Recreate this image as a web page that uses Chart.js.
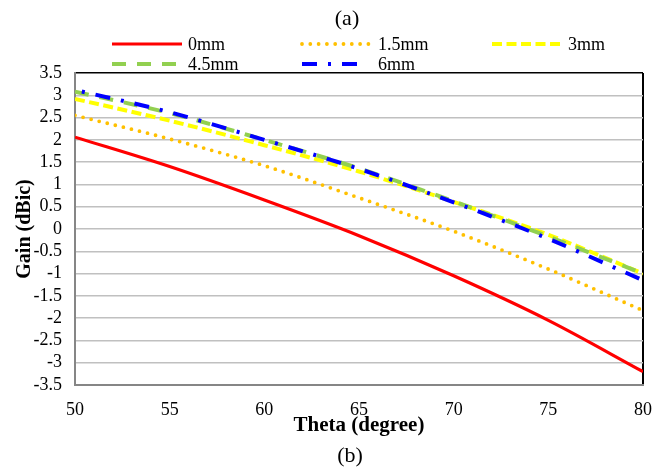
<!DOCTYPE html>
<html>
<head>
<meta charset="utf-8">
<title>Gain vs Theta</title>
<script src="https://cdn.jsdelivr.net/npm/chart.js@4"></script>
<style>
    html, body { margin: 0; padding: 0; background: #fff; }
    #wrap { width: 668px; height: 470px; }
</style>
</head>
<body>
<div id="wrap"><canvas id="gainChart" width="668" height="470"></canvas></div>
<script>
// Datos
const theta = [50, 55, 60, 65, 70, 75, 80];
const gain0mm = [2.06, 1.40, 0.65, -0.15, -1.05, -2.05, -3.20];
const gain15mm = [2.55, 2.02, 1.42, 0.70, -0.05, -0.90, -1.83];
const gain3mm = [2.92, 2.43, 1.88, 1.29, 0.61, -0.13, -1.00];
const gain45mm = [3.08, 2.60, 2.00, 1.36, 0.62, -0.17, -1.00];
const gain6mm = [3.12, 2.62, 2.00, 1.35, 0.60, -0.22, -1.15];
const seriesLabels = ['0mm', '1.5mm', '3mm', '4.5mm', '6mm'];
const yTicks = [-3.5, 3.5, 0.5];   // min, max, paso
const xTicks = [50, 80, 5];

const serif = "'Liberation Serif', 'Times New Roman', serif";

function toPoints(values) {
    return theta.map((t, i) => ({ x: t, y: values[i] }));
}

// Leyenda en dos filas y columnas fijas, como en la figura
const legendPos = [
    { x: 112, y: 44, len: 70 },
    { x: 302, y: 44, len: 67 },
    { x: 492, y: 44, len: 72 },
    { x: 112, y: 64, len: 70 },
    { x: 302, y: 64, len: 57 }
];
const textX = [188, 378, 568, 188, 378];

const labelsPlugin = {
    id: 'labelsPlugin',
    afterDraw(chart) {
        const ctx = chart.ctx;
        ctx.save();
        ctx.fillStyle = '#000';
        ctx.textBaseline = 'middle';
        ctx.textAlign = 'center';
        ctx.font = '22px ' + serif;
        ctx.fillText('(a)', 347, 19);
        ctx.fillText('(b)', 350, 456);

        ctx.font = '18px ' + serif;
        ctx.textAlign = 'left';
        chart.data.datasets.forEach((ds, i) => {
            const p = legendPos[i];
            ctx.beginPath();
            ctx.setLineDash(ds.borderDash || []);
            ctx.lineDashOffset = 0;
            ctx.lineCap = ds.borderCapStyle || 'butt';
            ctx.lineWidth = ds.borderWidth;
            ctx.strokeStyle = ds.borderColor;
            ctx.moveTo(p.x, p.y);
            ctx.lineTo(p.x + p.len, p.y);
            ctx.stroke();
            ctx.setLineDash([]);
            ctx.fillText(ds.label, textX[i], p.y + 1);
        });
        ctx.restore();
    }
};

const ctx = document.getElementById('gainChart').getContext('2d');
new Chart(ctx, {
    type: 'line',
    data: {
        datasets: [
            {
                label: seriesLabels[0], data: toPoints(gain0mm),
                borderColor: '#FF0000', borderWidth: 3.2, order: 4
            },
            {
                label: seriesLabels[1], data: toPoints(gain15mm),
                borderColor: '#FFC000', borderWidth: 3.8, order: 3,
                borderDash: [0, 8.3], borderCapStyle: 'round'
            },
            {
                label: seriesLabels[2], data: toPoints(gain3mm),
                borderColor: '#FFFF00', borderWidth: 4, order: 2,
                borderDash: [10, 4.5]
            },
            {
                label: seriesLabels[3], data: toPoints(gain45mm),
                borderColor: '#92D050', borderWidth: 4, order: 1,
                borderDash: [14, 11]
            },
            {
                label: seriesLabels[4], data: toPoints(gain6mm),
                borderColor: '#0000FF', borderWidth: 4, order: 0,
                borderDash: [15, 11, 3, 11], borderDashOffset: 19
            }
        ]
    },
    options: {
        responsive: false,
        animation: false,
        layout: { padding: { top: 73, right: 25, left: 0, bottom: 0 } },
        elements: {
            point: { radius: 0 },
            line: { fill: false, cubicInterpolationMode: 'monotone' }
        },
        plugins: {
            legend: { display: false },
            tooltip: { enabled: false }
        },
        scales: {
            x: {
                type: 'linear',
                min: xTicks[0], max: xTicks[1],
                afterFit(scale) { scale.height = 85; },
                ticks: {
                    stepSize: xTicks[2],
                    autoSkip: false,
                    maxRotation: 0,
                    padding: 14,
                    color: '#000',
                    font: { family: serif, size: 18 },
                    callback: v => String(v)
                },
                grid: {
                    drawTicks: false,
                    color: c => (c.tick && c.tick.value === xTicks[1]) ? '#000' : 'rgba(0,0,0,0)',
                    lineWidth: 2
                },
                border: { display: true, color: '#868686', width: 2 },
                title: {
                    display: true,
                    text: 'Theta (degree)',
                    color: '#000',
                    font: { family: serif, size: 21, weight: 'bold' },
                    padding: { top: 0, bottom: 32 }
                }
            },
            y: {
                min: yTicks[0], max: yTicks[1],
                afterFit(scale) { scale.width = 75; },
                ticks: {
                    stepSize: yTicks[2],
                    autoSkip: false,
                    padding: 13,
                    color: '#000',
                    font: { family: serif, size: 18 },
                    callback: v => String(Math.round(v * 10) / 10)
                },
                grid: {
                    drawTicks: false,
                    color: c => (c.tick && c.tick.value === yTicks[1]) ? '#000' : '#C0C0C0',
                    lineWidth: 1.5
                },
                border: { display: true, color: '#868686', width: 2 },
                title: {
                    display: true,
                    text: 'Gain (dBic)',
                    color: '#000',
                    font: { family: serif, size: 20, weight: 'bold' },
                    padding: { top: 13, bottom: 0 }
                }
            }
        }
    },
    plugins: [labelsPlugin]
});
</script>
</body>
</html>
